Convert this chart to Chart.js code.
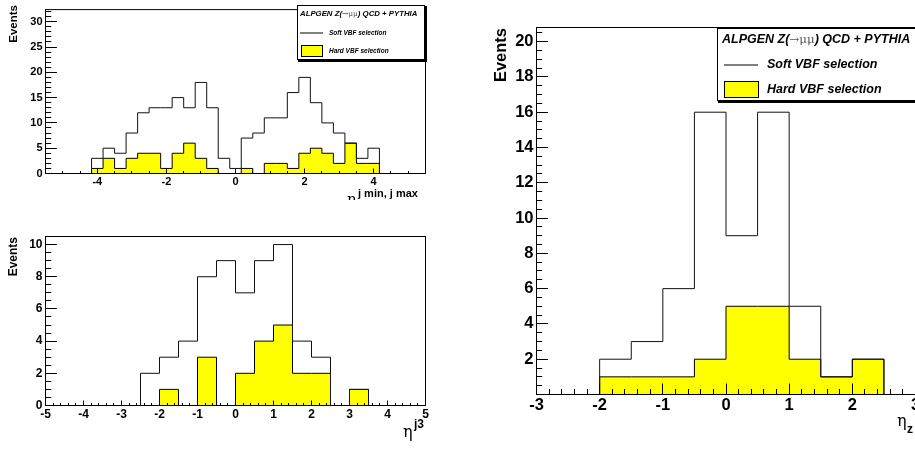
<!DOCTYPE html>
<html><head><meta charset="utf-8">
<script src="https://cdn.jsdelivr.net/npm/chart.js@4.4.1/dist/chart.umd.min.js"></script>
<style>
html,body{margin:0;padding:0;overflow:hidden;background:#fff;width:915px;height:449px;position:relative;}
canvas{position:absolute;display:block;}
</style></head><body>
<canvas id="cTop" style="left:0;top:0;"></canvas>
<canvas id="cBot" style="left:0;top:220px;"></canvas>
<canvas id="cRight" style="left:480px;top:0;"></canvas>
<script>
// ---------------- data ----------------
const seriesNames = ['Soft VBF selection', 'Hard VBF selection'];
const legendTitleParts = ['ALPGEN Z(', '\u2192\u03bc\u03bc', ') QCD + PYTHIA'];

// top-left: eta of leading jets (33 bins, -5.5 .. 5.5)
const topRange = [-5.5, 5.5];
const topSoft = [0,0,0,0, 3,5,4,8,12,13,13,15,13,18,13,3,1,7,8,11,11,16,19,14,10,8,6,3,5, 0,0,0,0];
const topHard = [0,0,0,0, 1,3,1,3,4,4,1,4,6,3,1,0,0,1,0,2,2,1,4,5,4,2,6,2,2, 0,0,0,0];
const topXTicks = [-4, -2, 0, 2, 4];
const topYTicks = [0, 5, 10, 15, 20, 25, 30];

// bottom-left: eta of third jet (20 bins, -5 .. 5)
const botRange = [-5, 5];
const botSoft = [0,0,0,0,0, 2,3,4,8,9, 7,9,10,4,3, 0,1,0,0,0];
const botHard = [0,0,0,0,0, 0,1,0,3,0, 2,4,5,2,2, 0,1,0,0,0];
const botXTicks = [-5,-4,-3,-2,-1,0,1,2,3,4,5];
const botYTicks = [0, 2, 4, 6, 8, 10];

// right: eta of Z (12 bins, -3 .. 3)
const rightRange = [-3, 3];
const rightSoft = [0,0, 2,3,6,16, 9,16,5,1, 2,0];
const rightHard = [0,0, 1,1,1,2, 5,5,2,1, 2,0];
const rightXTicks = [-3,-2,-1,0,1,2,3];
const rightYTicks = [2,4,6,8,10,12,14,16,18,20];

// ---------------- helpers ----------------
const SANS = "'Liberation Sans', Arial, Helvetica, sans-serif";
const SERIF = "'DejaVu Serif', 'Liberation Serif', serif";
const YELLOW = '#ffff00';

function hist(range, vals) {
  const n = vals.length, w = (range[1] - range[0]) / n;
  const pts = [{x: range[0], y: 0}];
  vals.forEach((v, i) => pts.push({x: range[0] + i * w, y: v}));
  pts.push({x: range[1], y: 0});
  return pts;
}

function drawLegend(ctx, L) {
  if (!L) return;
  ctx.save();
  ctx.fillStyle = '#000';
  ctx.fillRect(L.x0 + 1, L.y0 + 1, L.x1 - L.x0 + 1, L.y1 - L.y0 + 1);
  ctx.fillStyle = '#fff';
  ctx.fillRect(L.x0, L.y0, L.x1 - L.x0, L.y1 - L.y0);
  ctx.strokeStyle = '#000'; ctx.lineWidth = 1;
  ctx.strokeRect(L.x0 + 0.5, L.y0 + 0.5, L.x1 - L.x0 - 1, L.y1 - L.y0 - 1);
  ctx.textBaseline = 'middle'; ctx.textAlign = 'left';
  let xx = L.tx;
  legendTitleParts.forEach((t, i) => {
    if (i === 1) { ctx.font = `${L.ts * 0.95}px ${SERIF}`; ctx.fillStyle = '#555'; }
    else { ctx.font = `italic bold ${L.ts}px ${SANS}`; ctx.fillStyle = '#000'; }
    ctx.fillText(t, xx, L.ty);
    xx += ctx.measureText(t).width;
  });
  ctx.strokeStyle = '#000';
  ctx.beginPath(); ctx.moveTo(L.lx0, L.sy + 0.5); ctx.lineTo(L.lx1, L.sy + 0.5); ctx.stroke();
  ctx.fillStyle = '#000';
  ctx.font = `italic bold ${L.es}px ${SANS}`;
  ctx.fillText(seriesNames[0], L.ex, L.sy + 0.5);
  ctx.fillStyle = YELLOW;
  ctx.fillRect(L.bx0, L.by0, L.bx1 - L.bx0, L.by1 - L.by0);
  ctx.strokeRect(L.bx0 + 0.5, L.by0 + 0.5, L.bx1 - L.bx0 - 1, L.by1 - L.by0 - 1);
  ctx.fillStyle = '#000';
  ctx.fillText(seriesNames[1], L.ex, L.hy);
  ctx.restore();
}

function decoPlugin(o) {
  return {
    id: 'rootDeco',
    afterDatasetsDraw(chart) {
      const {ctx, chartArea: a, scales: {x, y}} = chart;
      ctx.save();
      ctx.strokeStyle = '#000'; ctx.lineWidth = 1;
      ctx.beginPath();
      const isMaj = (v, m) => Math.abs(v / m - Math.round(v / m)) < 1e-6;
      for (let k = Math.ceil(x.min / o.xMinor - 1e-6); k <= Math.floor(x.max / o.xMinor + 1e-6); k++) {
        const v = k * o.xMinor;
        const px = Math.floor(x.getPixelForValue(v)) + 0.5;
        const L = isMaj(v, o.xMajor) ? o.xTick : o.xTick / 2;
        ctx.moveTo(px, a.bottom); ctx.lineTo(px, a.bottom - L);
      }
      for (let k = Math.ceil(y.min / o.yMinor - 1e-6); k <= Math.floor(y.max / o.yMinor + 1e-6); k++) {
        const v = k * o.yMinor;
        const py = Math.floor(y.getPixelForValue(v)) + 0.5;
        const L = isMaj(v, o.yMajor) ? o.yTick : o.yTick / 2;
        ctx.moveTo(a.left, py); ctx.lineTo(a.left + L, py);
      }
      ctx.stroke();
      ctx.strokeRect(a.left, a.top, a.right - a.left, a.bottom - a.top);
      ctx.restore();
    },
    afterDraw(chart) {
      const ctx = chart.ctx;
      ctx.save();
      ctx.fillStyle = '#000';
      ctx.save();
      ctx.translate(o.evX, o.evY);
      ctx.rotate(-Math.PI / 2);
      ctx.font = `bold ${o.evSize}px ${SANS}`;
      ctx.textAlign = 'right'; ctx.textBaseline = 'middle';
      ctx.fillText('Events', 0, 0);
      ctx.restore();
      ctx.textAlign = 'left'; ctx.textBaseline = 'alphabetic';
      ctx.font = `${o.etaSize}px ${SERIF}`;
      ctx.fillText('\u03b7', o.etaX, o.etaY);
      ctx.font = `bold ${o.scSize}px ${SANS}`;
      ctx.fillText(o.scText, o.scX, o.scY);
      ctx.restore();
      drawLegend(ctx, o.legend);
    }
  };
}

function makeChart(id, o) {
  const el = document.getElementById(id);
  el.width = o.w; el.height = o.h;
  el.style.width = o.w + 'px'; el.style.height = o.h + 'px';
  const tickFont = {family: SANS, weight: 'bold', size: o.fs};
  return new Chart(el, {
    type: 'line',
    data: {
      datasets: [
        {label: seriesNames[1], data: hist(o.range, o.hard), stepped: 'before', fill: 'origin',
         backgroundColor: YELLOW, borderColor: '#000', borderWidth: 1, pointRadius: 0, order: 2},
        {label: seriesNames[0], data: hist(o.range, o.soft), stepped: 'before', fill: false,
         borderColor: '#111', borderWidth: 1, pointRadius: 0, order: 1}
      ]
    },
    options: {
      responsive: false, animation: false, devicePixelRatio: 1,
      layout: {padding: o.pad},
      plugins: {legend: {display: false}, tooltip: {enabled: false}},
      scales: {
        x: {
          type: 'linear', min: o.range[0], max: o.range[1],
          afterBuildTicks: s => { s.ticks = o.xTicks.map(v => ({value: v})); },
          afterFit: s => { s.height = o.xh; },
          grid: {display: false, drawTicks: false}, border: {display: false},
          ticks: {autoSkip: false, maxRotation: 0, minRotation: 0, padding: o.xpad, color: '#000',
                  font: tickFont, callback: v => String(v)}
        },
        y: {
          type: 'linear', min: 0, max: o.ymax,
          afterBuildTicks: s => { s.ticks = o.yTicks.map(v => ({value: v})); },
          afterFit: s => { s.width = o.yw; },
          grid: {display: false, drawTicks: false}, border: {display: false},
          ticks: {autoSkip: false, padding: 3, color: '#000', font: tickFont, callback: v => String(v)}
        }
      }
    },
    plugins: [decoPlugin(o)]
  });
}

// ---------------- charts ----------------
makeChart('cTop', {
  w: 440, h: 200, range: topRange, soft: topSoft, hard: topHard, xTicks: topXTicks, yTicks: topYTicks,
  ymax: 32.4, fs: 11, xpad: 2, xh: 26.5, yw: 45.5, pad: {left: 0, top: 4.5, right: 14.5, bottom: 0},
  xMajor: 2, xMinor: 0.5, xTick: 5, yMajor: 5, yMinor: 1, yTick: 11.4,
  evX: 14, evY: 5, evSize: 11.5,
  etaX: 347, etaY: 204, etaSize: 15, scText: 'j min, j max', scX: 358, scY: 196.5, scSize: 11,
  legend: {x0: 297, y0: 5, x1: 425, y1: 60, tx: 300, ty: 14, ts: 7.8,
           lx0: 300, lx1: 323, sy: 32.5, ex: 329, es: 6.5,
           bx0: 301, by0: 45, bx1: 323, by1: 57, hy: 51}
});

makeChart('cBot', {
  w: 440, h: 229, range: botRange, soft: botSoft, hard: botHard, xTicks: botXTicks, yTicks: botYTicks,
  ymax: 10.5, fs: 12, xpad: 2, xh: 43.5, yw: 45.5, pad: {left: 0, top: 16.5, right: 14.5, bottom: 0},
  xMajor: 1, xMinor: 0.2, xTick: 5, yMajor: 2, yMinor: 0.5, yTick: 11.4,
  evX: 14, evY: 17, evSize: 12,
  etaX: 403, etaY: 217, etaSize: 16, scText: 'j3', scX: 414, scY: 208, scSize: 12,
  legend: null
});

makeChart('cRight', {
  w: 480, h: 449, range: rightRange, soft: rightSoft, hard: rightHard, xTicks: rightXTicks, yTicks: rightYTicks,
  ymax: 20.8, fs: 16.5, xpad: 1, xh: 54.5, yw: 56.5, pad: {left: 0, top: 27.5, right: 44.5, bottom: 0},
  xMajor: 1, xMinor: 0.2, xTick: 11, yMajor: 2, yMinor: 0.5, yTick: 11.4,
  evX: 21, evY: 28, evSize: 16.5,
  etaX: 417, etaY: 426, etaSize: 16, scText: 'z', scX: 427, scY: 433, scSize: 12,
  legend: {x0: 237, y0: 28, x1: 480, y1: 101, tx: 242, ty: 40, ts: 12.5,
           lx0: 244, lx1: 278, sy: 64.5, ex: 287, es: 12.5,
           bx0: 244, by0: 81, bx1: 279, by1: 98, hy: 90}
});
</script>
</body></html>
